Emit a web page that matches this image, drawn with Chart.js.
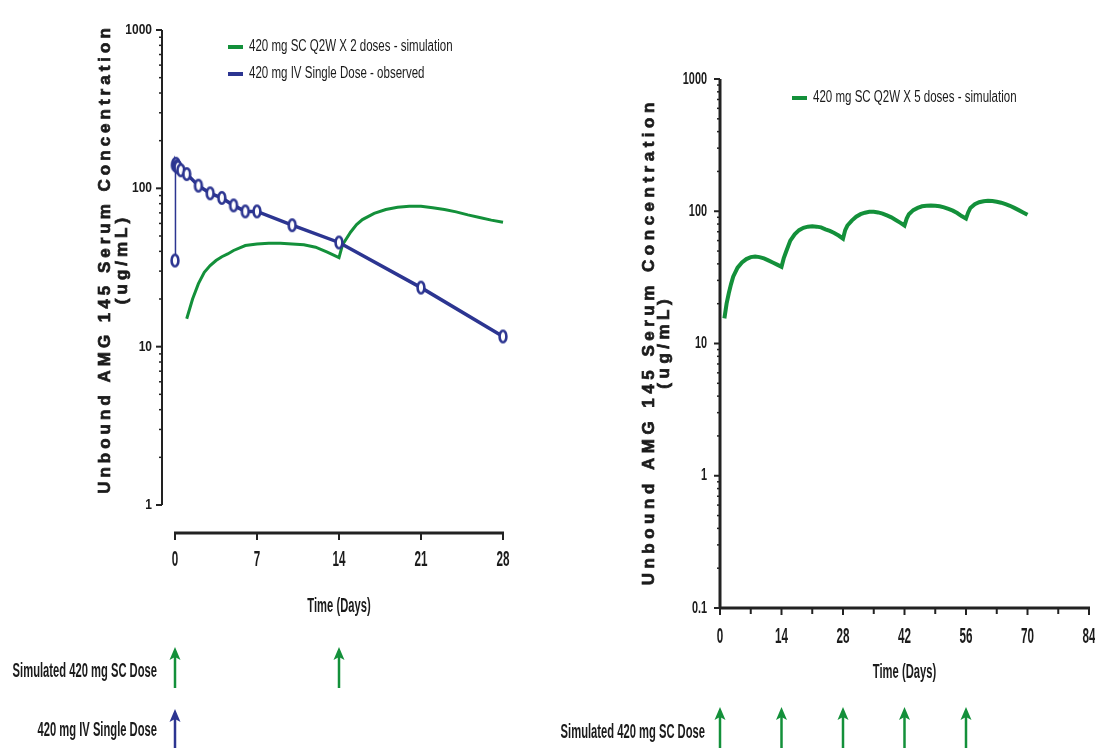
<!DOCTYPE html>
<html>
<head>
<meta charset="utf-8">
<script src="https://cdn.jsdelivr.net/npm/chart.js@4.4.1/dist/chart.umd.min.js"></script>
<style>
  html, body { margin: 0; padding: 0; background: #fff; }
  #wrap { position: relative; width: 1095px; height: 748px; overflow: hidden; }
  #leftChart { position: absolute; left: 0; top: 0; }
  #rightChart { position: absolute; left: 540px; top: 0; }
</style>
</head>
<body>
<div id="wrap">
  <canvas id="leftChart" width="540" height="748"></canvas>
  <canvas id="rightChart" width="555" height="748"></canvas>
</div>
<script>
// --- data ---
const leftScDays = [1, 1.5, 2, 2.5, 3, 3.5, 4, 4.5, 5, 6, 7, 8, 9, 10, 11, 12, 13, 14, 14.3, 15, 15.5, 16, 17, 18, 19, 20, 21, 22, 23, 24, 25, 26, 27, 28];
const leftScConc = [15, 20, 25, 29.5, 32.5, 35, 37, 38.5, 40.5, 43.5, 44.5, 45, 45, 44.5, 44, 42.5, 39.5, 36.5, 44, 53, 59, 63.5, 69.5, 73.5, 76, 77, 77, 75.5, 73.5, 71, 68, 65.5, 63, 61];

const leftIvDays = [0, 0.04, 0.08, 0.17, 0.25, 0.5, 1, 2, 3, 4, 5, 6, 7, 10, 14, 21, 28];
const leftIvConc = [35, 140, 143, 138, 136, 130, 123, 104, 93, 87, 78, 71.5, 71.5, 58.5, 45.5, 23.6, 11.6];

const rightScDays = [1, 1.5, 2, 2.5, 3, 4, 5, 6, 7, 8, 9, 10, 11, 12, 13, 14, 14.5, 15, 16, 17, 18, 19, 20, 21, 22, 23, 24, 25, 26, 27, 28,
  28.5, 29, 30, 31, 32, 33, 34, 35, 36, 37, 38, 39, 40, 41, 42, 42.5, 43, 44, 45, 46, 47, 48, 49, 50, 51, 52, 53, 54, 55, 56,
  56.5, 57, 58, 59, 60, 61, 62, 63, 64, 65, 66, 67, 68, 69, 70];
const rightScConc = [15.5, 20, 24, 28, 32, 37.5, 41, 43.5, 45, 45.5, 45, 44, 42.5, 41, 39.5, 38, 44, 49, 60, 67, 72, 75, 76.5, 77, 76.5, 75.5, 73, 71, 68.5, 65.5, 62,
  72, 78, 85, 91, 95, 97.5, 99, 99, 98, 96, 93, 90, 86, 82, 78, 88, 95, 102, 106, 109, 110, 110.5, 110, 109, 107, 104, 101, 97, 92, 88,
  98, 106, 113, 117, 119, 120, 119.5, 118, 116, 113, 110, 106, 102, 98, 94];

const leftXTicks = [0, 7, 14, 21, 28];
const leftYTicks = [1, 10, 100, 1000];
const rightXTicks = [0, 14, 28, 42, 56, 70, 84];
const rightXMinor = [7, 21, 35, 49, 63, 77];
const rightYTicks = [0.1, 1, 10, 100, 1000];

const leftScDoses = [0, 14];
const leftIvDoses = [0];
const rightScDoses = [0, 14, 28, 42, 56];

const yTitle = ['Unbound AMG 145 Serum Concentration', '(ug/mL)'];
const xTitle = 'Time (Days)';

const GREEN = '#13903a';
const BLUE = '#2c3591';
const INK = '#1b1b1b';
const FONT = "'Liberation Sans', Arial, sans-serif";

function pts(xs, ys) { return xs.map((d, i) => ({ x: d, y: ys[i] })); }

// narrow text: the figure's lettering is squeezed sideways
function squeezed(ctx, text, x, y, size, weight, sx, align) {
  ctx.save();
  ctx.font = weight + ' ' + size + 'px ' + FONT;
  ctx.fillStyle = INK;
  ctx.textBaseline = 'middle';
  ctx.textAlign = align || 'center';
  ctx.translate(x, y);
  ctx.scale(sx, 1);
  ctx.fillText(text, 0, 0);
  ctx.restore();
}

function seg(ctx, x1, y1, x2, y2) {
  ctx.beginPath(); ctx.moveTo(x1, y1); ctx.lineTo(x2, y2); ctx.stroke();
}

function arrow(ctx, x, yTop, yBot, color) {
  ctx.save();
  ctx.strokeStyle = color; ctx.fillStyle = color; ctx.lineWidth = 2.5;
  seg(ctx, x, yBot, x, yTop + 8);
  ctx.beginPath();
  ctx.moveTo(x, yTop);
  ctx.lineTo(x - 5.5, yTop + 13);
  ctx.lineTo(x, yTop + 10);
  ctx.lineTo(x + 5.5, yTop + 13);
  ctx.closePath();
  ctx.fill();
  ctx.restore();
}

// open "o" marker, a bit taller than wide like in the figure
const ring = document.createElement('canvas');
ring.width = 12; ring.height = 16;
(function () {
  const c = ring.getContext('2d');
  c.strokeStyle = BLUE; c.fillStyle = '#fff'; c.lineWidth = 2.6;
  c.beginPath(); c.ellipse(6, 8, 3.4, 5.8, 0, 0, Math.PI * 2); c.fill(); c.stroke();
})();

const decoPlugin = {
  id: 'deco',
  afterDraw(chart, args, o) {
    const ctx = chart.ctx, xs = chart.scales.x, ys = chart.scales.y, ca = chart.chartArea;
    const ax = ca.left - o.yGap, ay = ca.bottom + o.xGap;
    ctx.save();
    ctx.strokeStyle = '#222';

    // y axis with decade ticks and minor ticks
    ctx.lineWidth = o.yLine;
    seg(ctx, ax, ys.getPixelForValue(ys.max), ax, ys.getPixelForValue(ys.min));
    o.yTicks.forEach((v, i) => {
      const py = ys.getPixelForValue(v);
      ctx.lineWidth = 2;
      seg(ctx, ax - 6, py, ax, py);
      if (i < o.yTicks.length - 1) {
        ctx.lineWidth = 1.5;
        for (let k = 2; k <= 9; k++) {
          const pm = ys.getPixelForValue(v * k);
          seg(ctx, ax - 3, pm, ax, pm);
        }
      }
      squeezed(ctx, String(v), ax - o.yLabelGap, py, o.yFont, 'bold', o.ySx, 'right');
    });

    // x axis
    ctx.lineWidth = 3;
    seg(ctx, xs.getPixelForValue(xs.min) - 1, ay, xs.getPixelForValue(xs.max) + 1, ay);
    ctx.lineWidth = 2;
    o.xTicks.forEach(v => {
      const px = xs.getPixelForValue(v);
      seg(ctx, px, ay, px, ay + 7);
      squeezed(ctx, String(v), px, ay + o.xLabelOffset, 22, 'bold', 0.53);
    });
    (o.xMinor || []).forEach(v => {
      const px = xs.getPixelForValue(v);
      seg(ctx, px, ay, px, ay + 6);
    });
    const xMid = (xs.getPixelForValue(xs.min) + xs.getPixelForValue(xs.max)) / 2;
    squeezed(ctx, xTitle, xMid, ay + o.xTitleOffset, 20, 'bold', 0.56);

    // y title, rotated and letter spaced, drawn heavy
    yTitle.forEach((t, i) => {
      ctx.save();
      ctx.font = 'bold 17px ' + FONT;
      ctx.fillStyle = INK;
      ctx.strokeStyle = INK;
      ctx.lineWidth = 0.7;
      ctx.letterSpacing = o.titleSpacing + 'px';
      ctx.textAlign = 'center';
      ctx.textBaseline = 'middle';
      ctx.translate(o.titleX[i], o.titleY);
      ctx.rotate(-Math.PI / 2);
      ctx.fillText(t, o.titleSpacing / 2, 0);
      ctx.strokeText(t, o.titleSpacing / 2, 0);
      ctx.restore();
    });

    // legend inside plot
    chart.data.datasets.forEach((ds, i) => {
      const ly = o.legendY + i * 27;
      ctx.strokeStyle = ds.borderColor; ctx.lineWidth = 4;
      seg(ctx, o.legendX, ly, o.legendX + 15, ly);
      squeezed(ctx, ds.label, o.legendX + 21, ly, 16, 'normal', 0.72, 'left');
    });

    // dose arrows below the axis
    o.doses.forEach(r => {
      squeezed(ctx, r.label, r.right, r.y, 20, 'bold', 0.56, 'right');
      r.days.forEach(d => arrow(ctx, xs.getPixelForValue(d), r.top, r.bottom, r.color));
    });
    ctx.restore();
  }
};

function scales(xMax, yMin, yMax, yWidth, xHeight) {
  return {
    x: {
      type: 'linear', min: 0, max: xMax,
      grid: { display: false, drawTicks: false }, border: { display: false },
      ticks: { display: false },
      afterFit: s => { s.height = xHeight; }
    },
    y: {
      type: 'logarithmic', min: yMin, max: yMax,
      grid: { display: false, drawTicks: false }, border: { display: false },
      ticks: { display: false },
      afterFit: s => { s.width = yWidth; }
    }
  };
}

new Chart(document.getElementById('leftChart').getContext('2d'), {
  type: 'line',
  data: {
    datasets: [{
      label: '420 mg SC Q2W X 2 doses - simulation',
      data: pts(leftScDays, leftScConc),
      borderColor: GREEN, borderWidth: 3, pointRadius: 0, tension: 0,
      clip: false, order: 1
    }, {
      label: '420 mg IV Single Dose - observed',
      data: pts(leftIvDays, leftIvConc),
      borderColor: BLUE, borderWidth: 3.5, tension: 0,
      pointStyle: ring, pointRadius: 5,
      segment: { borderWidth: c => c.p0DataIndex === 0 ? 1.5 : 3.5 },
      clip: false, order: 0
    }]
  },
  options: {
    responsive: false, animation: false, events: [],
    layout: { padding: { top: 30, right: 37, left: 0, bottom: 0 } },
    scales: scales(28, 1, 1000, 175, 243),
    plugins: {
      legend: { display: false }, tooltip: { enabled: false },
      deco: {
        yTicks: leftYTicks, xTicks: leftXTicks,
        yGap: 13, xGap: 28, yLine: 2, yLabelGap: 10, yFont: 15, ySx: 0.8,
        xLabelOffset: 27, xTitleOffset: 73,
        titleX: [105, 122], titleY: 261, titleSpacing: 4,
        legendX: 228, legendY: 47,
        doses: [
          { label: 'Simulated 420 mg SC Dose', right: 157, y: 671, top: 647, bottom: 688, color: GREEN, days: leftScDoses },
          { label: '420 mg IV Single Dose', right: 157, y: 730, top: 709, bottom: 752, color: BLUE, days: leftIvDoses }
        ]
      }
    }
  },
  plugins: [decoPlugin]
});

new Chart(document.getElementById('rightChart').getContext('2d'), {
  type: 'line',
  data: {
    datasets: [{
      label: '420 mg SC Q2W X 5 doses - simulation',
      data: pts(rightScDays, rightScConc),
      borderColor: GREEN, borderWidth: 4, pointRadius: 0, tension: 0,
      clip: false
    }]
  },
  options: {
    responsive: false, animation: false, events: [],
    layout: { padding: { top: 79, right: 6, left: 0, bottom: 0 } },
    scales: scales(84, 0.1, 1000, 180, 140),
    plugins: {
      legend: { display: false }, tooltip: { enabled: false },
      deco: {
        yTicks: rightYTicks, xTicks: rightXTicks, xMinor: rightXMinor,
        yGap: 0, xGap: 0, yLine: 3, yLabelGap: 13, yFont: 17, ySx: 0.64,
        xLabelOffset: 29, xTitleOffset: 64,
        titleX: [109, 124], titleY: 344, titleSpacing: 4.5,
        legendX: 252, legendY: 98,
        doses: [
          { label: 'Simulated 420 mg SC Dose', right: 165, y: 732, top: 707, bottom: 752, color: GREEN, days: rightScDoses }
        ]
      }
    }
  },
  plugins: [decoPlugin]
});
</script>
</body>
</html>
